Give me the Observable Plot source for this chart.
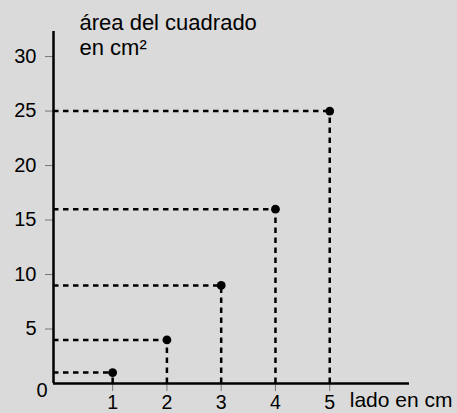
<!DOCTYPE html>
<html>
<head>
<meta charset="utf-8">
<script src="https://cdn.jsdelivr.net/npm/d3@7"></script>
<script src="https://cdn.jsdelivr.net/npm/@observablehq/plot@0.6"></script>
<style>
  html, body { margin: 0; padding: 0; background: #dadada; }
  #chart svg { display: block; }
</style>
</head>
<body>
<div id="chart"></div>
<script>
const sides = [1, 2, 3, 4, 5];
const areas = [1, 4, 9, 16, 25];
const yTicks = [5, 10, 15, 20, 25, 30];
const xTicks = [1, 2, 3, 4, 5];
const yTitle = "área del cuadrado\nen cm²";
const xTitle = "lado en cm";

const data = sides.map((s, i) => ({side: s, area: areas[i]}));
const x0 = -0.09;
const font = "'Liberation Sans', Arial, Helvetica, sans-serif";

const chart = Plot.plot({
  width: 457,
  height: 413,
  marginLeft: 53,
  marginRight: 48,
  marginTop: 31,
  marginBottom: 30,
  style: {background: "#dadada", fontFamily: font, color: "black"},
  x: {domain: [x0, 6.47]},
  y: {domain: [0, 32.3]},
  marks: [
    Plot.ruleY(data, {y: "area", x1: () => x0, x2: "side", stroke: "black", strokeWidth: 2.5, strokeDasharray: "5.5,4.5"}),
    Plot.ruleX(data, {x: "side", y1: () => 0, y2: "area", stroke: "black", strokeWidth: 2.5, strokeDasharray: "5.5,4.5"}),
    Plot.axisY({ticks: yTicks, tickSize: 8, tickPadding: 9, stroke: "#777", fill: "black", fontSize: 20, tickFormat: d => String(d), label: null}),
    Plot.axisX({ticks: xTicks, tickSize: 8, tickPadding: 4, stroke: "#777", fill: "black", fontSize: 19.5, tickFormat: d => String(d), label: null}),
    Plot.text(["0"], {x: () => x0, y: () => 0, dx: -6, dy: 7, textAnchor: "end", fontSize: 20, fill: "black"}),
    Plot.ruleX([x0], {stroke: "black", strokeWidth: 2.5}),
    Plot.ruleY([0], {stroke: "black", strokeWidth: 2.5}),
    Plot.dot(data, {x: "side", y: "area", r: 4.4, fill: "black", stroke: "none"}),
    Plot.text([yTitle], {frameAnchor: "top-left", dx: 26, dy: -19, textAnchor: "start", lineAnchor: "top", lineHeight: 1.14, fontSize: 22, fill: "black"}),
    Plot.text([xTitle], {x: () => 5, y: () => 0, dx: 20, dy: 9, textAnchor: "start", lineAnchor: "top", fontSize: 21, fill: "black"})
  ]
});
document.getElementById("chart").appendChild(chart);
</script>
</body>
</html>
